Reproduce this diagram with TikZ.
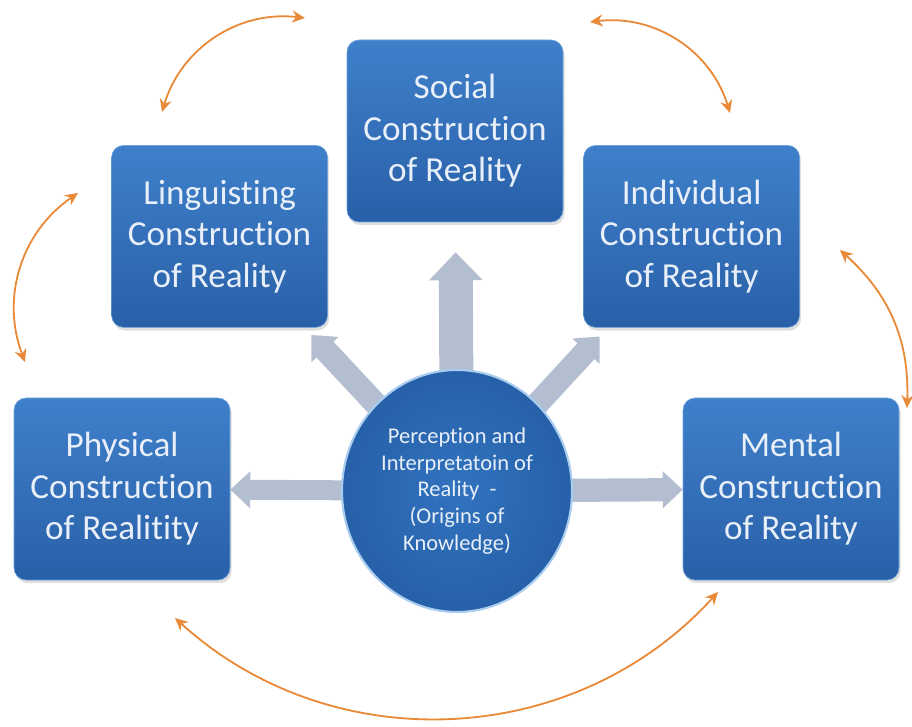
\documentclass[tikz,border=0pt]{standalone}
\usepackage{fontspec}
\setmainfont{Carlito}[Ligatures=NoCommon]
\usepackage{tikz}
\usetikzlibrary{arrows.meta, positioning, shapes.geometric, shadows, backgrounds}

\definecolor{boxtop}{HTML}{3F80CA}
\definecolor{boxbot}{HTML}{2860A8}
\definecolor{boxedge}{HTML}{6FA2DC}
\definecolor{boxtext}{HTML}{E8EFF8}
\definecolor{hubin}{HTML}{3273BF}
\definecolor{hubout}{HTML}{2660A8}
\definecolor{hubrim}{HTML}{A9CDEF}
\definecolor{spokegray}{HTML}{B3BFD0}
\definecolor{looporange}{HTML}{E98A39}

\begin{document}
\begin{tikzpicture}[
    box/.style={draw=boxedge, rounded corners=0.3cm, minimum width=5.4cm, minimum height=4.55cm, align=center, top color=boxtop, bottom color=boxbot, text=boxtext, font=\fontsize{25}{29.5}\selectfont, drop shadow={opacity=0.25, shadow xshift=0.04cm, shadow yshift=-0.08cm}},
    core/.style={ellipse, draw=hubrim, line width=1.5pt, inner color=hubin, outer color=hubout, minimum width=5.75cm, minimum height=6.05cm, align=center, text=boxtext, font=\fontsize{16}{19}\selectfont},
    spoke/.style={-{Triangle[width=0.9cm,length=0.5cm]}, line width=0.58cm, draw=spokegray},
    loopline/.style={{Stealth[length=0.32cm,width=0.3cm]}-{Stealth[length=0.32cm,width=0.3cm]}, line width=1.3pt, draw=looporange}
]
    \useasboundingbox (0,0) rectangle (22.8,18.15);
    \node[box] at (11.375,14.875) (social) {Social\\Construction\\of Reality};
    \node[box] at (5.49,12.24) (linguisting) {Linguisting\\Construction\\of Reality};
    \node[box] at (17.29,12.24) (individual) {Individual\\Construction\\of Reality};
    \node[box] at (3.05,5.925) (physical) {Physical\\Construction\\of Realitity};
    \node[box] at (19.775,5.925) (mental) {Mental\\Construction\\of Reality};
    \node[core] at (11.425,5.875) (hub) {Perception and\\Interpretatoin of\\Reality\ \ -\\(Origins of\\Knowledge)};
    \begin{scope}[on background layer]
        \draw[spoke, line width=0.5cm] (hub.center) -- (physical);
        \draw[spoke] (hub.center) -- (mental);
        \draw[spoke, line width=0.85cm, -{Triangle[width=1.3cm,length=0.7cm]}, shorten >=0.75cm] (hub.center) -- (social);
        \draw[spoke, shorten >=0.25cm] (hub.center) -- (linguisting);
        \draw[spoke, shorten >=0.3cm] (hub.center) -- (individual);
    \end{scope}
    \coordinate (c1a) at (4.05,15.35);
    \coordinate (c1b) at (7.625,17.7);
    \coordinate (c2a) at (1.95,13.325);
    \coordinate (c2b) at (0.625,9.1);
    \coordinate (c3a) at (14.75,17.6);
    \coordinate (c3b) at (18.25,15.325);
    \coordinate (c4a) at (21.0,11.9);
    \coordinate (c4b) at (22.675,7.95);
    \coordinate (c5a) at (4.375,2.7);
    \coordinate (c5b) at (17.95,3.35);
    \draw[loopline] (c1a) to[bend left=40] (c1b);
    \draw[loopline] (c2b) to[bend left=38] (c2a);
    \draw[loopline] (c3a) to[bend left=40] (c3b);
    \draw[loopline] (c4a) to[bend left=25] (c4b);
    \draw[loopline] (c5a) to[bend right=45] (c5b);
\end{tikzpicture}
\end{document}
